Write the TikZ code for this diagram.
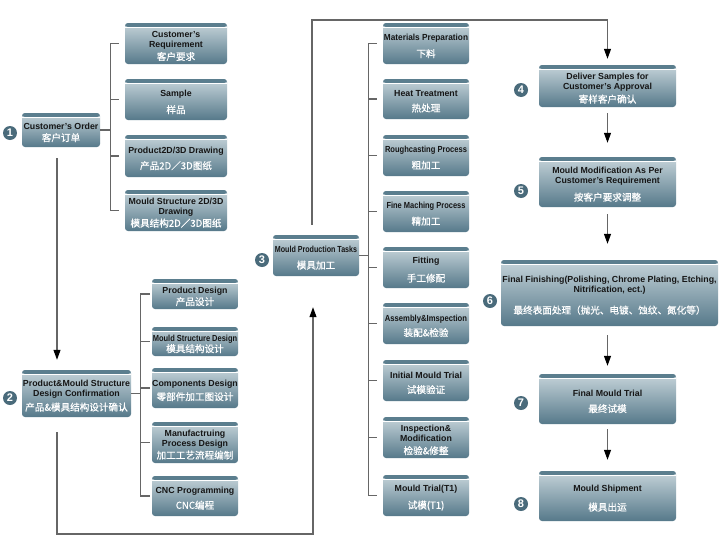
\documentclass[tikz,border=0pt]{standalone}
\usepackage{fontspec}
\setmainfont{Liberation Sans}
\newfontfamily\cjk[UprightFeatures={FakeBold=0.6}]{Noto Sans CJK SC}
\usetikzlibrary{arrows.meta}
\definecolor{boxtop}{HTML}{C6D4DA}
\definecolor{boxbot}{HTML}{56798A}
\definecolor{strip}{HTML}{5B7E8E}
\definecolor{numc}{HTML}{4A6B7B}
\definecolor{linec}{HTML}{666666}
\definecolor{ink}{HTML}{161616}
\newcommand\zh[1]{{\cjk\mdseries\color{white}\fontsize{9.6}{10}\selectfont #1}}
\newcommand\nar[2]{\scalebox{#1}[1]{#2}}
\newcommand\bx[6]{%
  \node[boxbg, minimum width=#4pt, minimum height=#5pt] (#1) at (#2,#3) {};
  \node[boxtxt] (#1-t) at ([yshift=-2.5pt]#1.center) {#6};}
\tikzset{
 boxbg/.style={rectangle, rounded corners=3pt, top color=boxtop, bottom color=boxbot, inner sep=0pt,
   path picture={
   \fill[strip] (path picture bounding box.north west) rectangle ([yshift=-4pt]path picture bounding box.north east);
   \draw[white, line width=0.9pt] ([yshift=-4.5pt]path picture bounding box.north west) -- ([yshift=-4.5pt]path picture bounding box.north east);}},
 boxtxt/.style={align=center, inner sep=0pt, text=ink, font=\fontsize{8.8}{10}\selectfont\bfseries},
 num/.style={circle, fill=numc, text=white, inner sep=0pt, minimum size=14pt, font=\fontsize{11}{11}\selectfont\bfseries},
 ln/.style={draw=linec, line width=1.1pt},
 arr/.style={ln, -{Triangle[width=7pt,length=10pt,color=black]}},
}
\begin{document}
\begin{tikzpicture}[x=1pt,y=-1pt]
\fill[white] (0,0) rectangle (720,557);
\useasboundingbox (0,0) rectangle (720,557);

% column 1
\bx{co}{61}{130}{78}{34}{Customer's Order\\[2pt]\zh{客户订单}}
\bx{pm}{76.5}{393.5}{109}{47}{Product\&Mould Structure\\Design Confirmation\\[4pt]\zh{产品\&模具结构设计确认}}

% group A
\bx{cr}{176}{43.5}{102}{41}{Customer's\\Requirement\\[3pt]\zh{客户要求}}
\bx{sa}{176}{99.5}{102}{41}{Sample\\[7pt]\zh{样品}}
\bx{pd2}{176}{156}{102}{42}{Product2D/3D Drawing\\[6pt]\zh{产品2D／3D图纸}}
\bx{ms2}{176}{210.5}{102}{41}{Mould Structure 2D/3D\\Drawing\\[2pt]\zh{模具结构2D／3D图纸}}

% group B
\bx{pdes}{195}{294}{86}{30}{Product Design\\[2pt]\zh{产品设计}}
\bx{msd}{195}{341.5}{86}{29}{\nar{0.85}{Mould Structure Design}\\[1pt]\zh{模具结构设计}}
\bx{cd}{195}{388}{86}{40}{Components Design\\[4pt]\zh{零部件加工图设计}}
\bx{mpd}{195}{442.5}{86}{41}{Manufactruing\\Process Design\\[2pt]\zh{加工工艺流程编制}}
\bx{cnc}{195}{496}{86}{40}{CNC Programming\\[5pt]\zh{CNC编程}}

% column 3
\bx{mpt}{316}{255.5}{86}{41}{\nar{0.81}{Mould Production Tasks}\\[6pt]\zh{模具加工}}

% group C
\bx{mp}{426}{43.5}{86}{41}{\nar{0.94}{Materials Preparation}\\[7pt]\zh{下料}}
\bx{ht}{426}{99}{86}{40}{Heat Treatment\\[5pt]\zh{热处理}}
\bx{rp}{426}{155.5}{86}{41}{\nar{0.86}{Roughcasting Process}\\[6pt]\zh{粗加工}}
\bx{fm}{426}{211.5}{86}{41}{\nar{0.85}{Fine Maching Process}\\[6pt]\zh{精加工}}
\bx{fi}{426}{267.5}{86}{41}{Fitting\\[8pt]\zh{手工修配}}
\bx{ai}{426}{323.5}{86}{41}{\nar{0.87}{Assembly\&Imspection}\\[5pt]\zh{装配\&检验}}
\bx{imt}{426}{380.5}{86}{41}{Initial Mould Trial\\[5pt]\zh{试模验证}}
\bx{im}{426}{437.5}{86}{41}{Inspection\&\\Modification\\[3pt]\zh{检验\&修整}}
\bx{mt1}{426}{495.5}{86}{41}{Mould Trial(T1)\\[7pt]\zh{试模(T1)}}

% column 5
\bx{ds}{607.5}{86}{137}{42}{Deliver Samples for\\Customer's Approval\\[3pt]\zh{寄样客户确认}}
\bx{mm}{607.5}{182}{137}{50}{Mould Modification As Per\\Customer's Requirement\\[7pt]\zh{按客户要求调整}}
\bx{ff}{609.5}{293}{217}{66}{Final Finishing(Polishing, Chrome Plating, Etching,\\Nitrification, ect.)\\[10pt]\zh{最终表面处理（抛光、电镀、蚀纹、氮化等）}}
\bx{fmt}{607.5}{399}{137}{50}{Final Mould Trial\\[6pt]\zh{最终试模}}
\bx{ms}{607.5}{496}{137}{50}{Mould Shipment\\[9pt]\zh{模具出运}}

% numbers
\node[num] (n1) at (10,133) {1};
\node[num] (n2) at (10,398) {2};
\node[num] (n3) at (262,260) {3};
\node[num] (n4) at (521,90) {4};
\node[num] (n5) at (521,191) {5};
\node[num] (n6) at (490,301) {6};
\node[num] (n7) at (521,403) {7};
\node[num] (n8) at (521,504) {8};

% brackets
\draw[ln] (co.east) -- ++(10pt,0) coordinate (ba);
\draw[ln] (ba |- cr.west) -- (ba |- ms2.west);
\foreach \n in {cr,sa,pd2,ms2} \draw[ln] (ba |- \n.west) -- ([xshift=-6pt]\n.west);

\draw[ln] (pm.east) -- ++(9pt,0) coordinate (bb);
\draw[ln] (bb |- pdes.west) -- (bb |- cnc.west);
\foreach \n in {pdes,msd,cd,mpd,cnc} \draw[ln] (bb |- \n.west) -- ([xshift=-2pt]\n.west);

\draw[ln] (mpt.east) -- ++(9pt,0) coordinate (bc);
\draw[ln] (bc |- mp.west) -- (bc |- mt1.west);
\foreach \n in {mp,ht,rp,fm,fi,ai,imt,im,mt1} \draw[ln] (bc |- \n.west) -- ([xshift=-6pt]\n.west);

% flow arrows
\draw[arr, shorten <=11pt, shorten >=10pt] ([xshift=-4pt]co.south) -- ([xshift=-4pt]co.south |- pm.north);
\coordinate (bl) at (57,534);
\draw[arr, shorten <=15pt, shorten >=31pt] (bl |- pm.south) -- (bl) -| ([xshift=-3pt]mpt.south);
\coordinate (tr) at (607.5,20);
\draw[arr, shorten <=10pt, shorten >=6pt] ([xshift=-4pt]mpt.north) |- (tr) -- (ds.north);
\draw[arr, shorten <=6pt, shorten >=14pt] (ds.south) -- (mm.north);
\draw[arr, shorten <=7pt, shorten >=16pt] (mm.south) -- (mm.south |- ff.north);
\draw[arr, shorten <=9pt, shorten >=8pt] (fmt.north |- ff.south) -- (fmt.north);
\draw[arr, shorten <=5pt, shorten >=11pt] (fmt.south) -- (ms.north);
\end{tikzpicture}
\end{document}
